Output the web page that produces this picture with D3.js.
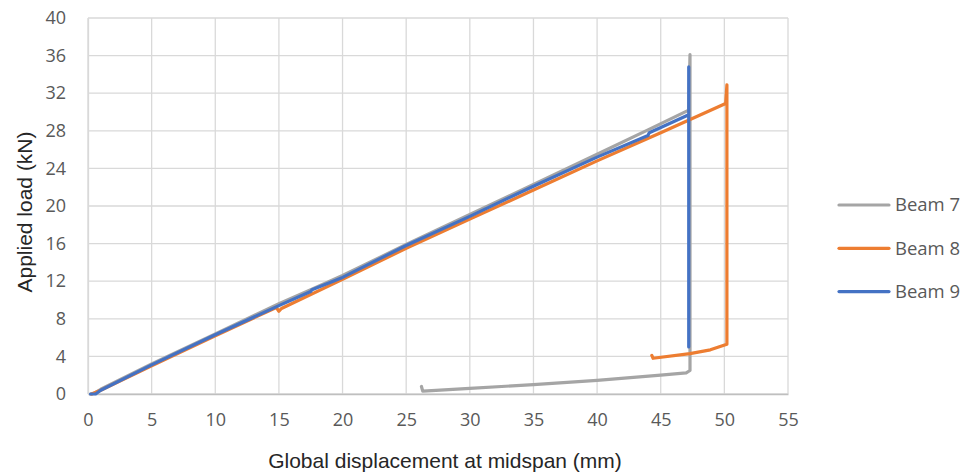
<!DOCTYPE html>
<html>
<head>
<meta charset="utf-8">
<script src="https://cdn.jsdelivr.net/npm/d3@7"></script>
<style>
  body { margin: 0; background: #fff; }
  .tick text { font-family: "Open Sans", sans-serif; font-size: 18px; fill: #595959; }
  .title { font-family: "Liberation Sans", Arial, sans-serif; font-size: 21px; fill: #262626; }
  .legend text { font-family: "Open Sans", sans-serif; font-size: 18.5px; fill: #595959; }
</style>
</head>
<body>
<script>
// values: [displacement mm, load kN]
var beam7 = [[0.2,0],[0.5,0.1],[1,0.5],[5,3.2],[10,6.4],[15,9.6],[17.5,11.1],[20,12.6],[25,15.9],[30,19.1],[35,22.3],[40,25.5],[44,28.1],[47.2,30.2],[47.3,36.1],[47.3,2.5],[47.0,2.25],[45,2.0],[40,1.45],[35,1.0],[30,0.6],[27,0.35],[26.3,0.3],[26.2,0.8]];
var beam8 = [[0.3,0],[1,0.4],[5,3.0],[10,6.2],[14.8,9.2],[15,8.8],[15.2,9.1],[20,12.2],[25,15.5],[30,18.6],[35,21.7],[40,24.8],[45,27.8],[50.1,30.9],[50.2,32.9],[50.2,5.3],[48.9,4.7],[47.3,4.3],[44.4,3.8],[44.3,4.1]];
var beam9 = [[0.2,0],[0.6,0],[1,0.4],[5,3.1],[10,6.3],[15,9.4],[17.5,10.9],[17.6,11.1],[20,12.4],[25,15.8],[30,18.9],[35,22.1],[40,25.2],[44,27.5],[44.1,27.8],[47.2,29.7],[47.2,34.8],[47.2,5.0]];

var seriesNames = ["Beam 7", "Beam 8", "Beam 9"];
var seriesData = [beam7, beam8, beam9];
var seriesColors = ["#A5A5A5", "#ED7D31", "#4472C4"];

var xTicks = [0, 5, 10, 15, 20, 25, 30, 35, 40, 45, 50, 55];
var yTicks = [0, 4, 8, 12, 16, 20, 24, 28, 32, 36, 40];

var w = 968, h = 472;
var svg = d3.select("body").append("svg")
    .attr("width", w)
    .attr("height", h);

var x = d3.scaleLinear().domain([0, 55]).range([88, 788]);
var y = d3.scaleLinear().domain([0, 40]).range([394, 18]);

// grid
svg.append("g").selectAll("line")
    .data(xTicks)
    .enter().append("line")
    .attr("x1", function (d) { return x(d); })
    .attr("x2", function (d) { return x(d); })
    .attr("y1", y(0)).attr("y2", y(40))
    .attr("stroke", "#d9d9d9").attr("stroke-width", 1.3);

svg.append("g").selectAll("line")
    .data(yTicks)
    .enter().append("line")
    .attr("x1", x(0)).attr("x2", x(55))
    .attr("y1", function (d) { return y(d); })
    .attr("y2", function (d) { return y(d); })
    .attr("stroke", "#d9d9d9").attr("stroke-width", 1.3);

// axes (labels only)
var xAxis = svg.append("g")
    .attr("transform", "translate(0," + y(0) + ")")
    .call(d3.axisBottom(x).tickValues(xTicks).tickSize(0).tickPadding(19));
xAxis.select(".domain").attr("stroke", "#bfbfbf").attr("stroke-width", 1.3);

var yAxis = svg.append("g")
    .attr("transform", "translate(" + x(0) + ",0)")
    .call(d3.axisLeft(y).tickValues(yTicks).tickSize(0).tickPadding(22));
yAxis.select(".domain").attr("stroke", "#d9d9d9").attr("stroke-width", 1.3);

// series
var line = d3.line()
    .x(function (d) { return x(d[0]); })
    .y(function (d) { return y(d[1]); });

svg.append("g").selectAll("path")
    .data(seriesData)
    .enter().append("path")
    .attr("d", line)
    .attr("fill", "none")
    .attr("stroke", function (d, i) { return seriesColors[i]; })
    .attr("stroke-width", 3.2)
    .attr("stroke-linejoin", "round")
    .attr("stroke-linecap", "round");

// titles
svg.append("text")
    .attr("class", "title")
    .attr("text-anchor", "middle")
    .attr("x", 445).attr("y", 468)
    .text("Global displacement at midspan (mm)");

svg.append("text")
    .attr("class", "title")
    .attr("text-anchor", "middle")
    .attr("transform", "translate(32,212) rotate(-90)")
    .text("Applied load (kN)");

// legend
var legend = svg.append("g").attr("class", "legend")
    .selectAll("g")
    .data(seriesNames)
    .enter().append("g")
    .attr("transform", function (d, i) { return "translate(839," + (205 + i * 43.3) + ")"; });

legend.append("line")
    .attr("x1", 0).attr("x2", 50)
    .attr("stroke", function (d, i) { return seriesColors[i]; })
    .attr("stroke-width", 3.2)
    .attr("stroke-linecap", "round");

legend.append("text")
    .attr("x", 56).attr("dy", "0.35em")
    .text(function (d) { return d; });
</script>
</body>
</html>
